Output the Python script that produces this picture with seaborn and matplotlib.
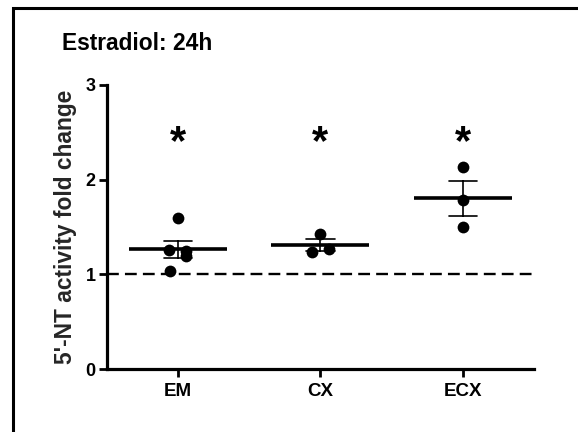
import numpy as np
import pandas as pd
import matplotlib
matplotlib.use("Agg")
import matplotlib.pyplot as plt
import seaborn as sns
from matplotlib.patches import Rectangle

# ---- data ----
title = "Estradiol: 24h"
ylabel = "5'-NT activity fold change"
categories = ["EM", "CX", "ECX"]
em_values = [1.59, 1.255, 1.25, 1.19, 1.035]
cx_values = [1.43, 1.235, 1.27]
ecx_values = [2.13, 1.78, 1.50]
baseline = 1.0
significance = ["*", "*", "*"]
yticks = [0, 1, 2, 3]

# ---- layout (horizontal dodge of overlapping dots, in category units) ----
em_dx = [0.0, -0.06, 0.06, 0.06, -0.055]
cx_dx = [0.0, -0.06, 0.06]
ecx_dx = [0.0, 0.0, 0.0]

groups = {"EM": (em_values, em_dx), "CX": (cx_values, cx_dx), "ECX": (ecx_values, ecx_dx)}
rows = []
for i, c in enumerate(categories):
    vals, dxs = groups[c]
    for v, d in zip(vals, dxs):
        rows.append({"group": c, "value": v, "pos": i + d})
df = pd.DataFrame(rows)
df["group"] = pd.Categorical(df["group"], categories=categories, ordered=True)

sns.set_theme(style="ticks")
plt.rcParams["font.family"] = ["Liberation Sans", "DejaVu Sans"]
plt.rcParams["font.weight"] = "bold"

fig = plt.figure(figsize=(5.78, 4.32), dpi=100)
ax = fig.add_axes([106.7 / 578, 1 - 369.0 / 432, (534 - 106.7) / 578, (369.0 - 85) / 432])

# mean +/- SEM
sns.pointplot(data=df, x="group", y="value", order=categories, errorbar="se",
              capsize=0.2, linestyle="none", marker="_", markersize=70,
              markeredgewidth=2.6, color="black", err_kws={"linewidth": 1.2},
              ax=ax)

# individual points
sns.scatterplot(data=df, x="pos", y="value", color="black", s=72, linewidth=0,
                ax=ax, zorder=5, legend=False)

ax.axhline(baseline, color="black", linestyle=(0, (5, 2.6)), linewidth=1.7, zorder=1)

for i, s in enumerate(significance):
    ax.text(i, 2.43, s, ha="center", va="center_baseline", fontsize=30,
            fontweight="bold", color="black")

ax.set_xlim(-0.5, 2.5)
ax.set_ylim(0, 3)
ax.set_yticks(yticks)
ax.set_xticks(range(len(categories)))
ax.set_xticklabels(categories)
ax.set_xlabel("")
ax.set_ylabel(ylabel, fontsize=16.4, fontweight="bold", labelpad=6)
for lab in ax.get_xticklabels():
    lab.set_fontweight("bold")
    lab.set_fontsize(13.5)
for lab in ax.get_yticklabels():
    lab.set_fontweight("bold")
    lab.set_fontsize(13)
ax.tick_params(axis="both", width=2, length=6, color="black", labelcolor="black", pad=2)
ax.tick_params(axis="x", pad=4)
for side in ["top", "right"]:
    ax.spines[side].set_visible(False)
for side in ["left", "bottom"]:
    ax.spines[side].set_linewidth(2.3)
    ax.spines[side].set_color("black")

fig.text(62 / 578, 1 - 43 / 432, title, ha="left", va="center", fontsize=16.4,
         fontweight="bold", color="black")

# outer frame (cropped at right/bottom)
fig.patches.append(Rectangle((13 / 578, -0.05), 1.1, 1 - 7.5 / 432 + 0.05,
                             transform=fig.transFigure, fill=False,
                             edgecolor="black", linewidth=2.2))

fig.savefig("out.png", dpi=100)
